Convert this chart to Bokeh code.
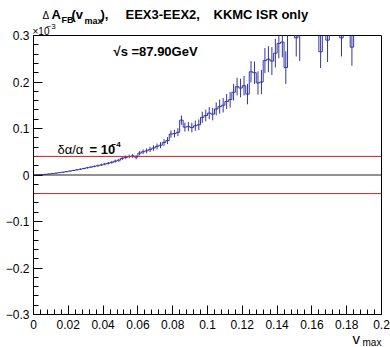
import numpy as np
from bokeh.plotting import figure
from bokeh.models import FixedTicker, Span, ColumnDataSource, Range1d
from bokeh.core.properties import value
from bokeh.embed import file_html
from bokeh.resources import INLINE

# ---- data (units of 1e-3) ----
n_bins = 100
v_lo, v_hi = 0.0, 0.2
values = [
    0.0002, 0.0005, 0.0009, 0.0015, 0.0022, 0.0030, 0.0040, 0.0050, 0.0061, 0.0072,
    0.0085, 0.0098, 0.0112, 0.0125, 0.0140, 0.0156, 0.0170, 0.0186, 0.0200, 0.0218,
    0.0235, 0.0252, 0.0272, 0.0298, 0.0318, 0.0358, 0.0378, 0.0398, 0.0410, 0.0385,
    0.0470, 0.0500, 0.0520, 0.0550, 0.0580, 0.0615, 0.0640, 0.0700, 0.0740, 0.0880,
    0.0890, 0.0920, 0.1180, 0.1030, 0.1040, 0.1020, 0.1060, 0.1080, 0.1240, 0.1280,
    0.1330, 0.1310, 0.1420, 0.1470, 0.1500, 0.1580, 0.1620, 0.1780, 0.1900, 0.1870,
    0.1920, 0.1740, 0.2220, 0.2200, 0.1980, 0.2000, 0.2460, 0.2490, 0.2450, 0.2620,
    0.2830, 0.2860, 0.2310, 0.3600, 0.3800, 0.2950, 0.3100, 0.3900, 0.4000, 0.3800,
    0.4200, 0.3700, 0.2650, 0.3700, 0.2900, 0.4100, 0.4000, 0.4300, 0.2950, 0.4200,
    0.4400, 0.2750, 0.4600, 0.4500, 0.4800, 0.4700, 0.5000, 0.4900, 0.5200, 0.5100,
]
errors = [
    0.0002, 0.0003, 0.0004, 0.0005, 0.0006, 0.0007, 0.0008, 0.0009, 0.0010, 0.0011,
    0.0012, 0.0013, 0.0014, 0.0015, 0.0016, 0.0018, 0.0019, 0.0020, 0.0022, 0.0024,
    0.0026, 0.0028, 0.0030, 0.0032, 0.0034, 0.0036, 0.0038, 0.0040, 0.0042, 0.0045,
    0.0048, 0.0050, 0.0053, 0.0056, 0.0059, 0.0062, 0.0066, 0.0070, 0.0074, 0.0078,
    0.0082, 0.0086, 0.0100, 0.0095, 0.0100, 0.0105, 0.0110, 0.0115, 0.0120, 0.0125,
    0.0130, 0.0135, 0.0140, 0.0150, 0.0155, 0.0160, 0.0170, 0.0180, 0.0190, 0.0200,
    0.0210, 0.0220, 0.0230, 0.0240, 0.0250, 0.0260, 0.0270, 0.0280, 0.0300, 0.0310,
    0.0320, 0.0330, 0.0350, 0.0450, 0.0500, 0.0400, 0.0650, 0.0500, 0.0550, 0.0500,
    0.0550, 0.0550, 0.0350, 0.0600, 0.0470, 0.0600, 0.0600, 0.0650, 0.0400, 0.0650,
    0.0650, 0.0400, 0.0700, 0.0700, 0.0750, 0.0750, 0.0800, 0.0800, 0.0850, 0.0850,
]
ref_levels = [0.04, -0.04]
zero_level = 0.0
x_ticks = [0, 0.02, 0.04, 0.06, 0.08, 0.1, 0.12, 0.14, 0.16, 0.18, 0.2]
x_tick_labels = ["0", "0.02", "0.04", "0.06", "0.08", "0.1", "0.12", "0.14", "0.16", "0.18", "0.2"]
y_ticks = [-0.3, -0.2, -0.1, 0, 0.1, 0.2, 0.3]
y_tick_labels = ["\u22120.3", "\u22120.2", "\u22120.1", "0", "0.1", "0.2", "0.3"]

edges = np.linspace(v_lo, v_hi, n_bins + 1)
centers = 0.5 * (edges[:-1] + edges[1:])
vals = np.array(values)
errs = np.array(errors)

FONT = "Liberation Sans"
BLUE = "#3434a4"

X0, X1, Y0, Y1 = 0.0, 0.2, -0.3, 0.3
p = figure(width=390, height=347, x_range=Range1d(X0, X1), y_range=Range1d(Y0, Y1),
           output_backend="svg", toolbar_location=None,
           min_border_left=33, min_border_right=9, min_border_top=35, min_border_bottom=33)
p.grid.visible = False
p.outline_line_color = "black"
p.outline_line_width = 1
p.background_fill_color = "white"
p.border_fill_color = "white"

# reference lines
for lv in ref_levels:
    p.add_layout(Span(location=lv, dimension="width", line_color="#d02020", line_width=1))
p.add_layout(Span(location=zero_level, dimension="width", line_color="#222222", line_width=1))

# histogram step + error bars
step_src = ColumnDataSource(dict(x=edges, y=np.append(vals, vals[-1])))
p.step(x="x", y="y", source=step_src, mode="after", line_color=BLUE, line_width=1)
err_src = ColumnDataSource(dict(x=centers, y0=vals - errs, y1=vals + errs))
p.segment(x0="x", y0="y0", x1="x", y1="y1", source=err_src, line_color=BLUE, line_width=1)

# axes
x_minor = [round(i * 0.004, 4) for i in range(51)]
y_minor = [round(-0.3 + i * 0.02, 4) for i in range(31)]
p.xaxis.ticker = FixedTicker(ticks=x_ticks, minor_ticks=x_minor)
p.yaxis.ticker = FixedTicker(ticks=y_ticks, minor_ticks=y_minor)
p.xaxis.major_label_overrides = {t: l for t, l in zip(x_ticks, x_tick_labels)}
p.yaxis.major_label_overrides = {t: l for t, l in zip(y_ticks, y_tick_labels)}
for ax in (p.xaxis, p.yaxis):
    ax.major_tick_in = 9
    ax.major_tick_out = 0
    ax.minor_tick_in = 5
    ax.minor_tick_out = 0
    ax.axis_line_color = "black"
    ax.major_tick_line_color = "black"
    ax.minor_tick_line_color = "black"
    ax.major_label_text_font = FONT
    ax.major_label_text_font_size = "12px"
    ax.major_label_text_color = "black"
p.xaxis.major_label_standoff = 5
p.yaxis.major_label_standoff = 4

# frame geometry in canvas pixels (for placing texts)
FL, FR, FT, FB = 33, 381, 35, 314


def to_data(xc, yc):
    xd = X0 + (xc - FL) * (X1 - X0) / (FR - FL)
    yd = Y1 - (yc - FT) * (Y1 - Y0) / (FB - FT)
    return xd, yd


def lab(xc, yc, text, size, bold=True):
    # texts are drawn as overlay text glyphs so they may sit outside the frame
    xd, yd = to_data(xc, yc)
    p.text(x=[xd], y=[yd], text=[text], text_font=value(FONT), text_font_size=value(size),
           text_font_style="bold" if bold else "normal", text_baseline="middle",
           text_align="left", text_color="black", level="overlay")


# title
lab(42, 15, "\u0394", "10px", bold=False)
lab(51, 14, "A", "13px")
lab(61, 19, "FB", "9px")
lab(71, 14, "(v", "13px")
lab(84, 20, "max", "9px")
lab(100, 14, "),", "13px")
lab(125, 14, "EEX3-EEX2,", "13px")
lab(213, 14, "KKMC ISR only", "13px")

# exponent
lab(32, 31, "\u00d710", "10px", bold=False)
lab(46, 26, "\u22123", "8px", bold=False)

# energy
lab(113, 51, "\u221as =87.90GeV", "13px")

# delta alpha
lab(57, 149, "\u03b4\u03b1/\u03b1", "13px", bold=False)
lab(89, 149, "= 10", "13px")
lab(111, 144, "\u22124", "8px")

# x axis title
lab(352, 338, "v", "15px", bold=False)
lab(362, 342, "max", "10px", bold=False)

open("out.html", "w").write(file_html(p, INLINE))
